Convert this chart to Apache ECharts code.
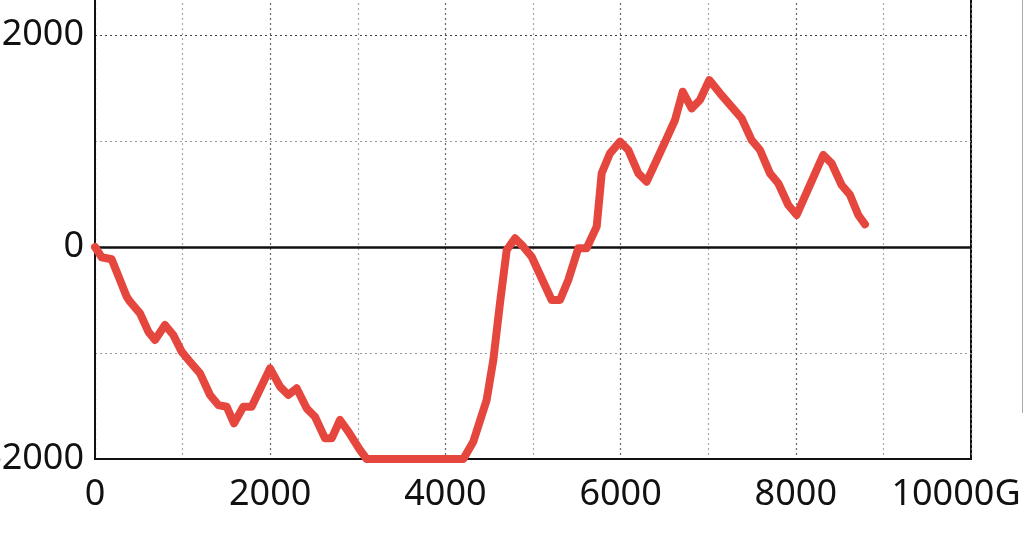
<!DOCTYPE html>
<html>
<head>
<meta charset="utf-8">
<script src="https://cdn.jsdelivr.net/npm/echarts@6/dist/echarts.min.js"></script>
<style>html,body{margin:0;padding:0;background:#fff}#c{width:1024px;height:534px}</style>
</head>
<body>
<div id="c"></div>
<script>
const xValues = [0, 76, 190, 362, 400, 514, 609, 685, 799, 894, 989, 1084, 1199, 1313, 1408, 1503, 1587, 1693, 1788, 1998, 2112, 2207, 2302, 2416, 2511, 2626, 2702, 2797, 2892, 3025, 3101, 4205, 4318, 4471, 4547, 4623, 4700, 4795, 4890, 4985, 5213, 5308, 5403, 5517, 5612, 5727, 5784, 5879, 5993, 6088, 6203, 6298, 6412, 6526, 6621, 6709, 6811, 6906, 7013, 7135, 7249, 7382, 7496, 7591, 7705, 7800, 7914, 8010, 8314, 8409, 8523, 8619, 8713, 8790];
const yValues = [0, -97, -116, -469, -516, -626, -799, -877, -736, -830, -987, -1082, -1192, -1396, -1491, -1507, -1664, -1507, -1507, -1145, -1318, -1396, -1333, -1522, -1601, -1805, -1805, -1632, -1742, -1915, -2000, -2000, -1837, -1443, -1066, -531, -28, 82, 3, -92, -500, -500, -311, -12, -12, 192, 695, 884, 994, 915, 695, 616, 821, 1025, 1198, 1465, 1308, 1387, 1575, 1450, 1340, 1214, 1009, 915, 695, 601, 396, 302, 868, 789, 585, 491, 302, 214];
const xTicks = [0, 2000, 4000, 6000, 8000, 10000];
const yTicks = [-2000, 0, 2000];
const xUnit = 'G';

const points = xValues.map((x, i) => [x, yValues[i]]);
const chart = echarts.init(document.getElementById('c'), null, {renderer: 'canvas'});
const font = '"Noto Sans", "Liberation Sans", Arial, sans-serif';
chart.setOption({
  animation: false,
  backgroundColor: '#fff',
  grid: {left: 95, right: 53, top: -177, bottom: 75, outerBoundsMode: 'none', containLabel: false, show: true, borderColor: '#111', borderWidth: 2, backgroundColor: 'transparent'},
  xAxis: {
    type: 'value', min: 0, max: 10000, interval: 2000,
    axisLine: {show: true, onZero: false, lineStyle: {color: '#111', width: 2}},
    axisTick: {show: false},
    axisLabel: {
      color: '#111', fontSize: 36, fontFamily: font, margin: 18,
      formatter: v => xTicks.includes(v) ? (v === 10000 ? '{g|' + v + xUnit + '}' : String(v)) : '',
      rich: {g: {fontSize: 36, fontFamily: font, color: '#111', padding: [0, 30, 0, 0]}}
    },
    splitLine: {show: true, lineStyle: {type: [2, 3], color: '#666', width: 1.2}},
    minorTick: {show: false, splitNumber: 2},
    minorSplitLine: {show: true, lineStyle: {type: [2, 3], color: '#aaa', width: 1.2}}
  },
  yAxis: {
    type: 'value', min: -2000, max: 4000, interval: 2000,
    axisLine: {show: true, onZero: false, lineStyle: {color: '#111', width: 2}},
    axisTick: {show: false},
    axisLabel: {
      color: '#111', fontSize: 36, fontFamily: font, margin: 11,
      formatter: v => yTicks.includes(v) ? String(v) : ''
    },
    splitLine: {show: true, lineStyle: {type: [2, 3], color: '#444', width: 1.2}},
    minorTick: {show: false, splitNumber: 2},
    minorSplitLine: {show: true, lineStyle: {type: [2, 3], color: '#999', width: 1.2}}
  },
  graphic: [{type: 'line', shape: {x1: 1022.5, y1: 0, x2: 1022.5, y2: 413}, style: {stroke: '#aaa', lineWidth: 1}}],
  series: [{
    type: 'line', data: points, symbol: 'none', clip: true,
    lineStyle: {color: '#e5473f', width: 8, join: 'round', cap: 'round'},
    z: 3,
    markLine: {
      silent: true, symbol: 'none', label: {show: false}, animation: false,
      lineStyle: {color: '#111', type: 'solid', width: 2.5},
      data: [{yAxis: 0}], z: 2
    }
  }]
});
</script>
</body>
</html>
